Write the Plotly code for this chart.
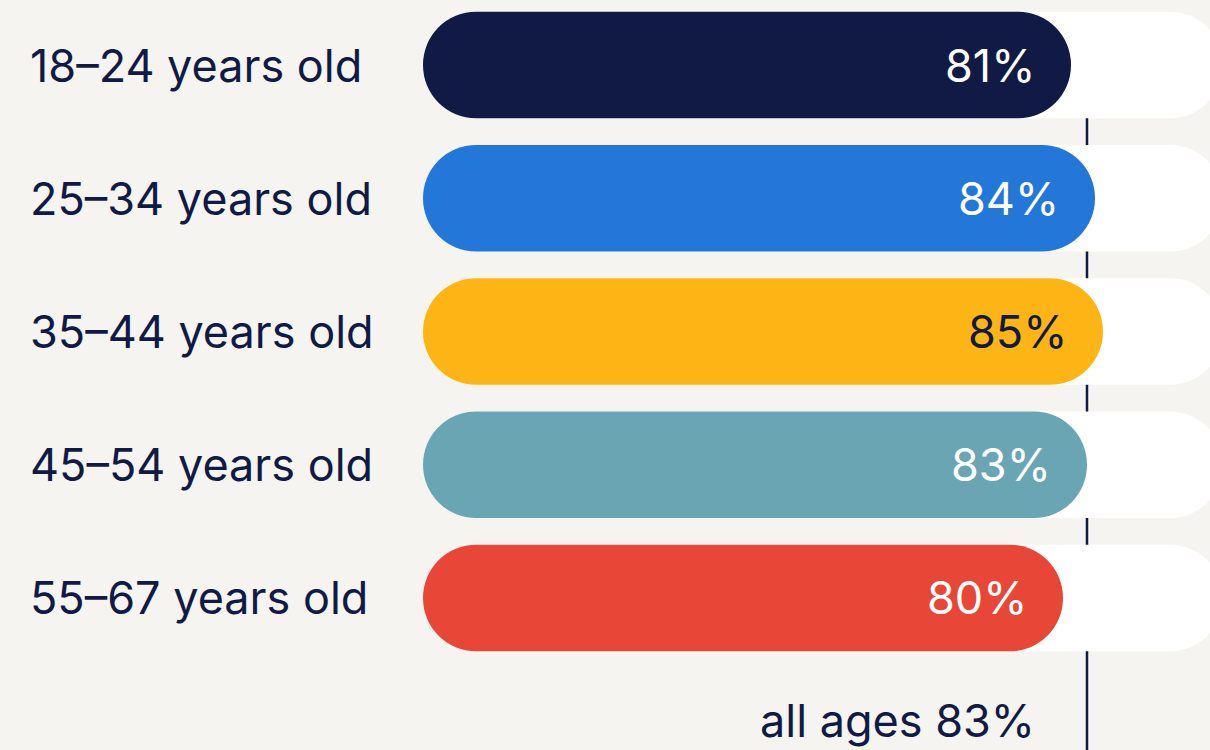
import plotly.graph_objects as go

categories = ["18–24 years old", "25–34 years old", "35–44 years old", "45–54 years old", "55–67 years old"]
values = [81, 84, 85, 83, 80]
bar_colors = ["#111a44", "#2377d9", "#fdb515", "#6aa5b3", "#e84636"]
label_colors = ["#ffffff", "#ffffff", "#111a44", "#ffffff", "#ffffff"]
overall = 83
overall_label = "all ages 83%"
full = 100

NAVY = "#111a44"
BG = "#f5f4f0"
FONT = "Inter"
FS = 45

fig = go.Figure()


def rounded_bar(vals, color):
    fig.add_trace(go.Bar(y=categories, x=vals, base=[0] * len(vals),
                         orientation="h", width=0.8,
                         marker=dict(color=color, cornerradius="50%", line_width=0), hoverinfo="skip"))


rounded_bar([full] * len(categories), "white")
rounded_bar(values, bar_colors)

annotations = []
for cat, v, lc in zip(categories, values, label_colors):
    annotations.append(dict(x=0.0235, xref="paper", y=cat, yref="y", text=cat, showarrow=False,
                            xanchor="left", yanchor="middle", font=dict(family=FONT, size=FS, color=NAVY)))
    annotations.append(dict(x=v, xref="x", y=cat, yref="y", text=f"{v}%", showarrow=False,
                            xanchor="right", yanchor="middle", xshift=-34,
                            font=dict(family=FONT, size=FS, color=lc)))
annotations.append(dict(x=overall, xref="x", y=0.0387, yref="paper", text=overall_label, showarrow=False,
                        xanchor="right", yanchor="middle", xshift=-50,
                        font=dict(family=FONT, size=FS, color=NAVY)))

fig.add_shape(type="line", x0=overall, x1=overall, xref="x", y0=0, y1=5.3, yref="y",
              line=dict(color=NAVY, width=2.5), layer="below")

fig.update_layout(
    width=1210, height=750,
    margin=dict(l=0, r=0, t=0, b=0),
    paper_bgcolor=BG, plot_bgcolor=BG,
    barmode="overlay", showlegend=False,
    xaxis=dict(range=[-52.875, 98.375], visible=False, fixedrange=True),
    yaxis=dict(categoryorder="array", categoryarray=categories, range=[5.141, -0.488],
               visible=False, fixedrange=True),
    annotations=annotations,
)

fig.write_html("out.html", config={"displayModeBar": False},
               post_script="document.body.style.margin='0';document.body.style.background='%s';" % BG)
